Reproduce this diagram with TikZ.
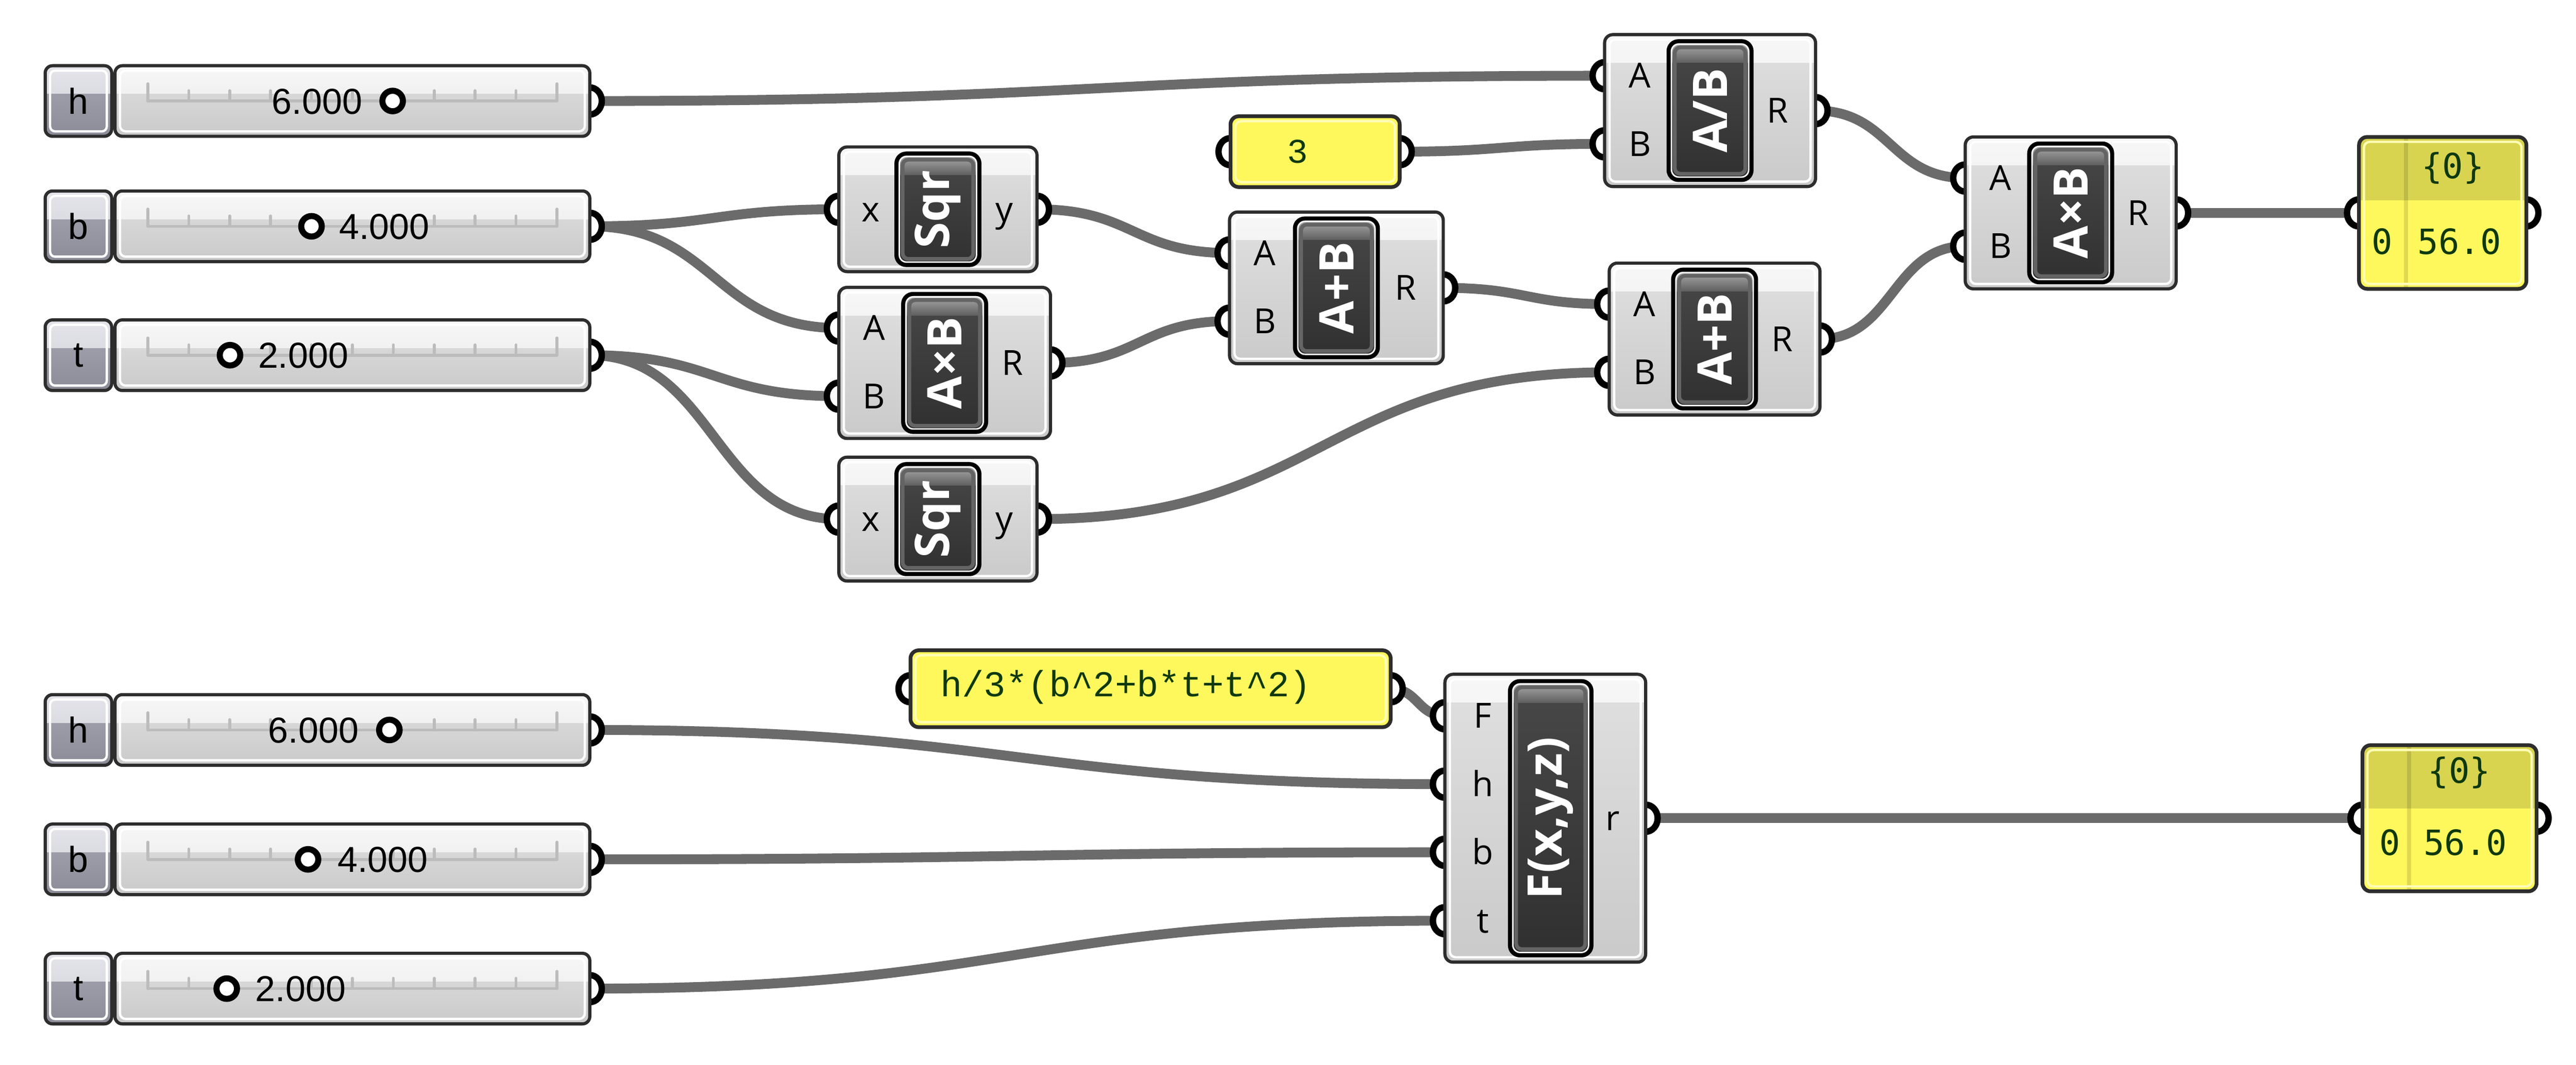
\documentclass[tikz,border=0pt]{standalone}
\usepackage{fontspec}
\usepackage{graphicx}
\usepackage{tikz}
\setmainfont{Liberation Sans}
\newfontfamily\ghsans{Open Sans}
\newfontfamily\ghmono{Liberation Mono}
\newfontfamily\ghcode{DejaVu Sans Mono}

\definecolor{wirecol}{RGB}{107,107,107}
\definecolor{edgecol}{RGB}{45,45,45}
\definecolor{bodyT}{RGB}{247,247,247}
\definecolor{bodyM}{RGB}{232,232,232}
\definecolor{bodyL}{RGB}{224,224,224}
\definecolor{bodyB}{RGB}{202,202,202}
\definecolor{nameT}{RGB}{228,228,234}
\definecolor{nameM}{RGB}{206,206,214}
\definecolor{nameL}{RGB}{168,168,180}
\definecolor{nameB}{RGB}{140,140,152}
\definecolor{iconT}{RGB}{178,178,178}
\definecolor{iconM}{RGB}{96,96,96}
\definecolor{iconL}{RGB}{72,72,72}
\definecolor{iconB}{RGB}{48,48,48}
\definecolor{iconR}{RGB}{100,100,100}
\definecolor{panelcol}{RGB}{255,248,92}
\definecolor{panelband}{RGB}{216,212,80}
\definecolor{paneltext}{RGB}{14,56,14}
\definecolor{trackcol}{RGB}{188,188,188}

\pgfdeclarelayer{bglayer}
\pgfdeclarelayer{wirelayer}
\pgfdeclarelayer{portlayer}
\pgfsetlayers{bglayer,wirelayer,portlayer,main}

\tikzset{
  wire/.style={draw=wirecol, line width=3.4pt},
  port/.style={draw=black, fill=white, line width=2.2pt},
  grip/.style={draw=black, fill=white, line width=2.1pt},
  track/.style={draw=trackcol, line width=1pt, line cap=round},
  ghbody/.style={draw=edgecol, line width=1.1pt, rounded corners=0.1cm, outer sep=0pt, inner sep=0pt,
    top color=bodyL, bottom color=bodyB,
    path picture={
      \fill[sharp corners, top color=bodyT, bottom color=bodyM] (path picture bounding box.north west) rectangle ([yshift=-0.34cm]path picture bounding box.north east);
      \draw[draw=white, line width=0.8pt, rounded corners=0.07cm] ([shift={(0.06cm,-0.06cm)}]path picture bounding box.north west) rectangle ([shift={(-0.06cm,0.06cm)}]path picture bounding box.south east);
    }},
  ghname/.style={draw=edgecol, line width=1.1pt, rounded corners=0.09cm, outer sep=0pt, inner sep=0pt,
    minimum width=0.81cm, minimum height=0.86cm, top color=nameL, bottom color=nameB,
    font=\fontsize{12.5}{15}\selectfont,
    path picture={
      \fill[sharp corners, top color=nameT, bottom color=nameM] (path picture bounding box.north west) rectangle ([yshift=-0.34cm]path picture bounding box.north east);
      \draw[draw=white, line width=0.8pt, rounded corners=0.06cm] ([shift={(0.06cm,-0.06cm)}]path picture bounding box.north west) rectangle ([shift={(-0.06cm,0.06cm)}]path picture bounding box.south east);
    }},
  ghslider/.style={ghbody, minimum width=5.78cm, minimum height=0.86cm, rounded corners=0.09cm},
  ghicon/.style={draw=black, line width=1.4pt, rounded corners=0.12cm, outer sep=0pt, inner sep=0pt,
    minimum width=1.01cm, fill=iconB, text=white, font=\ghsans\bfseries\fontsize{16.5}{18}\selectfont,
    path picture={
      \fill[sharp corners, top color=iconL, bottom color=iconB] (path picture bounding box.south west) rectangle (path picture bounding box.north east);
      \fill[sharp corners, top color=iconT, bottom color=iconM] (path picture bounding box.north west) rectangle ([yshift=-0.26cm]path picture bounding box.north east);
      \draw[draw=white, line width=0.5pt, rounded corners=0.09cm] ([shift={(0.035cm,-0.035cm)}]path picture bounding box.north west) rectangle ([shift={(-0.035cm,0.035cm)}]path picture bounding box.south east);
      \draw[draw=iconR, line width=1.3pt, rounded corners=0.07cm] ([shift={(0.075cm,-0.075cm)}]path picture bounding box.north west) rectangle ([shift={(-0.075cm,0.075cm)}]path picture bounding box.south east);
    }},
  ghpanel/.style={draw=edgecol, line width=1.3pt, rounded corners=0.1cm, outer sep=0pt, inner sep=0pt, fill=panelcol,
    path picture={
      \draw[draw=white!55!panelcol, line width=0.8pt, rounded corners=0.07cm] ([shift={(0.06cm,-0.06cm)}]path picture bounding box.north west) rectangle ([shift={(-0.06cm,0.06cm)}]path picture bounding box.south east);
    }},
  ghout/.style={ghpanel,
    path picture={
      \fill[sharp corners, fill=panelband] (path picture bounding box.north west) rectangle ([yshift=-0.77cm]path picture bounding box.north east);
      \draw[draw=black, opacity=0.12, line width=1.4pt] ([xshift=0.57cm]path picture bounding box.north west) -- ([xshift=0.57cm]path picture bounding box.south west);
      \draw[draw=white!55!panelcol, line width=0.8pt, rounded corners=0.07cm] ([shift={(0.06cm,-0.06cm)}]path picture bounding box.north west) rectangle ([shift={(-0.06cm,0.06cm)}]path picture bounding box.south east);
    }},
  glabel/.style={font=\ghsans\fontsize{12}{14}\selectfont, anchor=base, yshift=-0.15cm, inner sep=0pt},
  sval/.style={font=\fontsize{12.5}{15}\selectfont, anchor=base, yshift=-0.158cm, inner sep=0pt},
  ptext/.style={text=paneltext, inner sep=0pt}
}

\begin{document}
\begin{tikzpicture}[x=0.2mm, y=0.2mm]

	\useasboundingbox (0,0) rectangle (1568,-648.33);
	\begin{pgfonlayer}{bglayer}
		\fill[white] (0,0) rectangle (1568,-648.33);
	\end{pgfonlayer}

	% number sliders
	\foreach \n/\lab/\y/\val/\vx/\gx in {hs1/h/61.5/6.000/193/239, bs1/b/137.8/4.000/234/189.6, ts1/t/216.3/2.000/184.6/140,
			hs2/h/444.5/6.000/190.8/237, bs2/b/523.3/4.000/233/187.5, ts2/t/602/2.000/183/138} {
		\node[ghname] (\n-n) at (47.75,-\y) {\lab};
		\node[ghslider] (\n) at (214.5,-\y) {};
		\coordinate (\n-o) at (\n.east);
		\draw[track] (90,-\y) -- (339,-\y);
		\foreach \i in {0,10} \draw[track] ({90+24.9*\i},-\y) -- ++(0,10.5);
		\foreach \i in {1,...,9} \draw[track] ({90+24.9*\i},-\y) -- ++(0,6.3);
		\node[sval] (\n-v) at (\vx,-\y) {\val};
		\draw[grip] (\gx,-\y) circle (0.125cm);
	}

	% components
	\node[ghbody, minimum width=2.412cm, minimum height=1.518cm] (sq1) at (570.9,-127.45) {};
	\node[ghbody, minimum width=2.576cm, minimum height=1.84cm] (ab1) at (575,-221) {};
	\node[ghbody, minimum width=2.412cm, minimum height=1.508cm] (sq2) at (570.9,-316.1) {};
	\node[ghbody, minimum width=2.602cm, minimum height=1.848cm] (ap1) at (813.45,-175.3) {};
	\node[ghbody, minimum width=2.568cm, minimum height=1.85cm] (ad) at (1040.9,-67.35) {};
	\node[ghbody, minimum width=2.566cm, minimum height=1.85cm] (ap2) at (1043.65,-206.45) {};
	\node[ghbody, minimum width=2.568cm, minimum height=1.85cm] (ab2) at (1260.4,-129.65) {};
	\node[ghbody, minimum width=2.444cm, minimum height=3.506cm] (fx) at (940.6,-498.25) {};

	% panels
	\node[ghpanel, minimum width=2.06cm, minimum height=0.862cm] (three) at (800.5,-92.35) {};
	\node[ghpanel, minimum width=5.846cm, minimum height=0.936cm] (expr) at (700.35,-419.4) {};
	\node[ghout, minimum width=2.038cm, minimum height=1.85cm] (out1) at (1486.85,-129.65) {};
	\node[ghout, minimum width=2.12cm, minimum height=1.78cm] (out2) at (1491,-498.25) {};

	% ports
	\coordinate (sq1-x) at (sq1.west);
	\coordinate (sq1-y) at (sq1.east);
	\coordinate (sq2-x) at (sq2.west);
	\coordinate (sq2-y) at (sq2.east);
	\foreach \c in {ab1,ap1,ad,ap2,ab2} {
		\coordinate (\c-A) at ([yshift=0.425cm]\c.west);
		\coordinate (\c-B) at ([yshift=-0.405cm]\c.west);
		\coordinate (\c-R) at (\c.east);
	}
	\coordinate (fx-F) at ([yshift=1.248cm]fx.west);
	\coordinate (fx-h) at ([yshift=0.415cm]fx.west);
	\coordinate (fx-b) at ([yshift=-0.415cm]fx.west);
	\coordinate (fx-t) at ([yshift=-1.248cm]fx.west);
	\coordinate (fx-r) at (fx.east);
	\foreach \c in {three,expr,out1,out2} {
		\coordinate (\c-i) at (\c.west);
		\coordinate (\c-o) at (\c.east);
	}

	% labels
	\node[glabel] (sq1-lx) at ([xshift=0.39cm]sq1-x) {x};
	\node[glabel] (sq1-ly) at ([xshift=-0.4cm]sq1-y) {y};
	\node[glabel] (sq2-lx) at ([xshift=0.39cm]sq2-x) {x};
	\node[glabel] (sq2-ly) at ([xshift=-0.4cm]sq2-y) {y};
	\foreach \c in {ab1,ap1,ad,ap2,ab2} {
		\node[glabel] (\c-lA) at ([xshift=0.43cm]\c-A) {A};
		\node[glabel] (\c-lB) at ([xshift=0.43cm]\c-B) {B};
		\node[glabel] (\c-lR) at ([xshift=-0.46cm]\c-R) {R};
	}
	\node[glabel] (fx-lF) at ([xshift=0.46cm]fx-F) {F};
	\node[glabel] (fx-lh) at ([xshift=0.46cm]fx-h) {h};
	\node[glabel] (fx-lb) at ([xshift=0.46cm]fx-b) {b};
	\node[glabel] (fx-lt) at ([xshift=0.46cm]fx-t) {t};
	\node[glabel] (fx-lr) at ([xshift=-0.4cm]fx-r) {r};

	% icons
	\node[ghicon, minimum height=1.358cm] (sq1-i) at (sq1) {\rotatebox{90}{Sqr}};
	\node[ghicon, minimum height=1.68cm] (ab1-i) at (ab1) {\rotatebox{90}{A×B}};
	\node[ghicon, minimum height=1.34cm] (sq2-i) at (sq2) {\rotatebox{90}{Sqr}};
	\node[ghicon, minimum height=1.69cm] (ap1-i) at (ap1) {\rotatebox{90}{A+B}};
	\node[ghicon, minimum height=1.69cm] (ad-i) at (ad) {\rotatebox{90}{A/B}};
	\node[ghicon, minimum height=1.69cm] (ap2-i) at (ap2) {\rotatebox{90}{A+B}};
	\node[ghicon, minimum height=1.69cm] (ab2-i) at (ab2) {\rotatebox{90}{A×B}};
	\node[ghicon, minimum height=3.34cm, minimum width=0.992cm] (fx-i) at ([xshift=0.066cm]fx.center) {\rotatebox{90}{F(x,y,z)}};

	% panel texts
	\node[ptext, font=\ghmono\fontsize{12}{14}\selectfont] (three-t) at (790,-92.35) {3};
	\node[ptext, anchor=west, font=\ghmono\fontsize{12.6}{15}\selectfont] (expr-t) at (572,-418.4) {h/3*(b\string^2+b*t+t\string^2)};
	\node[ptext, font=\ghcode\fontsize{12}{14}\selectfont] (out1-h) at (1493,-102.4) {\{0\}};
	\node[ptext, font=\ghcode\fontsize{12}{14}\selectfont] (out1-k) at (1450,-147) {0};
	\node[ptext, font=\ghcode\fontsize{12}{14}\selectfont] (out1-v) at (1497,-147) {56.0};
	\node[ptext, font=\ghcode\fontsize{12}{14}\selectfont] (out2-h) at (1497,-470.6) {\{0\}};
	\node[ptext, font=\ghcode\fontsize{12}{14}\selectfont] (out2-k) at (1454.6,-513) {0};
	\node[ptext, font=\ghcode\fontsize{12}{14}\selectfont] (out2-v) at (1500.6,-513) {56.0};

	% wires
	\begin{pgfonlayer}{wirelayer}
		\foreach \a/\b in {hs1-o/ad-A, bs1-o/sq1-x, bs1-o/ab1-A, ts1-o/ab1-B, ts1-o/sq2-x,
				sq1-y/ap1-A, ab1-R/ap1-B, three-o/ad-B, ap1-R/ap2-A, sq2-y/ap2-B,
				ad-R/ab2-A, ap2-R/ab2-B, ab2-R/out1-i,
				expr-o/fx-F, hs2-o/fx-h, bs2-o/fx-b, ts2-o/fx-t, fx-r/out2-i} {
			\path (\a) -- coordinate[pos=0.5] (mid) (\b);
			\draw[wire] (\a) .. controls (mid |- \a) and (mid |- \b) .. (\b);
		}
	\end{pgfonlayer}

	\begin{pgfonlayer}{portlayer}
		\foreach \p in {sq1-x, sq2-x, ab1-A, ab1-B, ap1-A, ap1-B, ad-A, ad-B, ap2-A, ap2-B, ab2-A, ab2-B,
				fx-F, fx-h, fx-b, fx-t, three-i, expr-i, out1-i, out2-i}
			\filldraw[port] ([yshift=0.165cm]\p) arc (90:270:0.146cm and 0.165cm);
		\foreach \p in {hs1-o, bs1-o, ts1-o, hs2-o, bs2-o, ts2-o, sq1-y, sq2-y, ab1-R, ap1-R, ad-R, ap2-R, ab2-R,
				fx-r, three-o, expr-o, out1-o, out2-o}
			\filldraw[port] ([yshift=0.165cm]\p) arc (90:-90:0.146cm and 0.165cm);
	\end{pgfonlayer}

\end{tikzpicture}
\end{document}
